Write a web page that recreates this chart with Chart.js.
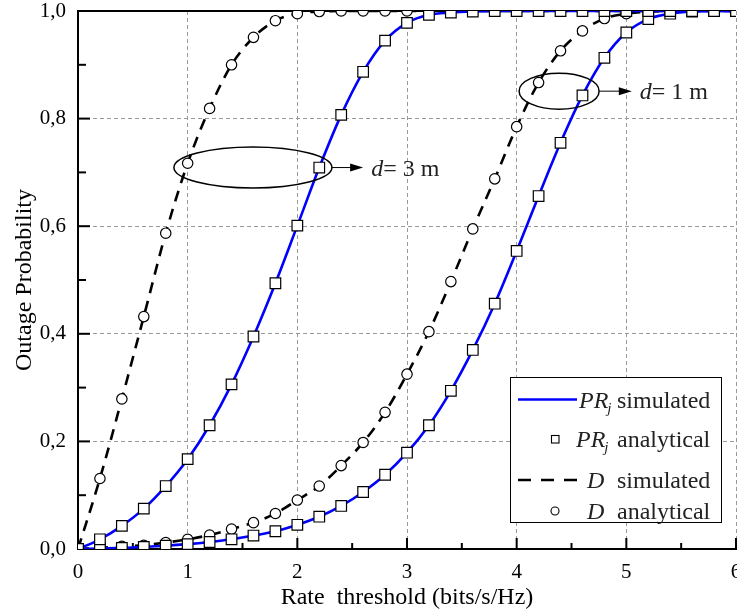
<!DOCTYPE html>
<html>
<head>
<meta charset="utf-8">
<script src="https://cdn.jsdelivr.net/npm/chart.js@4.4.1/dist/chart.umd.min.js"></script>
<style>
  html, body { margin: 0; padding: 0; background: #fff; }
</style>
</head>
<body>
<canvas id="mychart" width="737" height="613"></canvas>
<script>
// rate threshold (bits/s/Hz)
const rates = [0, 0.2, 0.4, 0.6, 0.8, 1.0, 1.2, 1.4, 1.6, 1.8, 2.0, 2.2, 2.4, 2.6, 2.8, 3.0,
               3.2, 3.4, 3.6, 3.8, 4.0, 4.2, 4.4, 4.6, 4.8, 5.0, 5.2, 5.4, 5.6, 5.8, 6.0];

// PR_j, d = 3 m
const prj3 = [0, 0.018, 0.043, 0.075, 0.117, 0.167, 0.230, 0.306, 0.395, 0.494, 0.601, 0.709,
              0.807, 0.887, 0.945, 0.978, 0.993, 0.997, 0.999, 1, 1, 1, 1, 1, 1, 1, 1, 1, 1, 1, 1];
// D, d = 3 m
const d3 = [0, 0.131, 0.279, 0.432, 0.587, 0.717, 0.819, 0.900, 0.951, 0.982, 0.995, 0.999,
            1, 1, 1, 1, 1, 1, 1, 1, 1, 1, 1, 1, 1, 1, 1, 1, 1, 1, 1];
// PR_j, d = 1 m
const prj1 = [0, 0.001, 0.002, 0.004, 0.006, 0.009, 0.013, 0.018, 0.025, 0.033, 0.045, 0.060,
              0.080, 0.106, 0.138, 0.179, 0.230, 0.294, 0.370, 0.456, 0.554, 0.656, 0.755,
              0.843, 0.913, 0.960, 0.985, 0.995, 0.999, 1, 1];
// D, d = 1 m
const d1 = [0, 0.002, 0.005, 0.007, 0.012, 0.018, 0.026, 0.037, 0.049, 0.066, 0.091, 0.117,
            0.155, 0.198, 0.254, 0.325, 0.404, 0.497, 0.595, 0.688, 0.785, 0.867, 0.926,
            0.963, 0.986, 0.995, 0.999, 1, 1, 1, 1];

const xTicks = [0, 1, 2, 3, 4, 5, 6];
const yTicks = [0, 0.2, 0.4, 0.6, 0.8, 1.0];

const FONT = 'Liberation Serif';
const BLUE = '#0000ff';
const DASH = [11, 8];

const pts = (vals) => vals.map((v, i) => ({x: rates[i], y: v}));

const simLine = (label, vals, color, dash) => ({
  label: label,
  data: pts(vals),
  borderColor: color,
  borderWidth: 2.6,
  borderDash: dash,
  pointRadius: 0,
  fill: false,
  cubicInterpolationMode: 'monotone',
  order: 1,
});

const anaPoints = (label, vals, style, r) => ({
  label: label,
  data: pts(vals),
  showLine: false,
  pointStyle: style,
  pointRadius: r,
  pointBackgroundColor: '#fff',
  pointBorderColor: '#000',
  pointBorderWidth: 1.2,
  order: 0,
});

const datasets = [
  simLine('PRj simulated (d=3 m)', prj3, BLUE, []),
  simLine('PRj simulated (d=1 m)', prj1, BLUE, []),
  simLine('D simulated (d=3 m)', d3, '#000', DASH),
  simLine('D simulated (d=1 m)', d1, '#000', DASH),
  anaPoints('PRj analytical (d=3 m)', prj3, 'rect', 7.5),
  anaPoints('PRj analytical (d=1 m)', prj1, 'rect', 7.5),
  anaPoints('D analytical (d=3 m)', d3, 'circle', 5.2),
  anaPoints('D analytical (d=1 m)', d1, 'circle', 5.2),
];

// legend rows: symbol kind, italic name, subscript, rest
const legendRows = [
  {kind: 'line', color: BLUE, dash: [], name: 'PR', sub: 'j', text: 'simulated'},
  {kind: 'rect', name: 'PR', sub: 'j', text: 'analytical'},
  {kind: 'line', color: '#000', dash: [13, 10], name: 'D', sub: '', text: 'simulated'},
  {kind: 'circle', name: 'D', sub: '', text: 'analytical'},
];

// "d = ..." callouts, ellipse centre in data units
const callouts = [
  {cx: 1.595, cy: 0.709, rx: 79, ry: 20.5, arrowEnd: 2.6, dist: '= 3 m'},
  {cx: 4.387, cy: 0.851, rx: 40, ry: 18, arrowEnd: 5.05, dist: '= 1 m'},
];

const decor = {
  id: 'decor',
  beforeDatasetsDraw(chart) {
    const {ctx, chartArea: a, scales: {x, y}} = chart;
    ctx.save();
    ctx.strokeStyle = '#000';
    ctx.lineWidth = 2;
    ctx.beginPath();
    ctx.moveTo(a.left, a.top);
    ctx.lineTo(a.right, a.top);
    ctx.stroke();

    // inward ticks, major + minor
    for (let i = 0; i <= 12; i++) {
      const px = x.getPixelForValue(i * 0.5);
      const len = i % 2 === 0 ? 11 : 6;
      ctx.beginPath();
      ctx.moveTo(px, a.bottom);
      ctx.lineTo(px, a.bottom - len);
      ctx.stroke();
    }
    for (let i = 0; i <= 10; i++) {
      const py = y.getPixelForValue(i * 0.1);
      const len = i % 2 === 0 ? 12 : 8;
      ctx.beginPath();
      ctx.moveTo(a.left, py);
      ctx.lineTo(a.left + len, py);
      ctx.stroke();
    }
    ctx.restore();
  },
  afterDatasetsDraw(chart) {
    const {ctx, chartArea: a, scales: {x, y}} = chart;
    ctx.save();

    // callouts
    callouts.forEach(c => {
      const cx = x.getPixelForValue(c.cx);
      const cy = y.getPixelForValue(c.cy);
      ctx.strokeStyle = '#000';
      ctx.lineWidth = 1.5;
      ctx.beginPath();
      ctx.ellipse(cx, cy, c.rx, c.ry, 0, 0, Math.PI * 2);
      ctx.stroke();
      const x0 = cx + c.rx;
      const x1 = x.getPixelForValue(c.arrowEnd);
      ctx.lineWidth = 1;
      ctx.beginPath();
      ctx.moveTo(x0, cy);
      ctx.lineTo(x1 - 10, cy);
      ctx.stroke();
      ctx.fillStyle = '#000';
      ctx.beginPath();
      ctx.moveTo(x1, cy);
      ctx.lineTo(x1 - 13, cy - 4);
      ctx.lineTo(x1 - 13, cy + 4);
      ctx.closePath();
      ctx.fill();
      ctx.textBaseline = 'alphabetic';
      ctx.fillStyle = '#222';
      ctx.font = 'italic 24px "' + FONT + '"';
      const tx = x1 + 8;
      ctx.fillText('d', tx, cy + 8);
      const w = ctx.measureText('d').width;
      ctx.font = '24px "' + FONT + '"';
      ctx.fillText(c.dist, tx + w, cy + 8);
    });

    // legend box
    const bw = 211, bh = 145;
    const bx = a.right - 15 - bw;
    const by = a.bottom - 27 - bh;
    ctx.fillStyle = '#fff';
    ctx.fillRect(bx, by, bw, bh);
    ctx.strokeStyle = '#000';
    ctx.lineWidth = 1;
    ctx.strokeRect(bx + 0.5, by + 0.5, bw, bh);

    const rowY = [22.5, 62, 103, 134];
    legendRows.forEach((r, i) => {
      const ry = by + rowY[i];
      if (r.kind === 'line') {
        ctx.strokeStyle = r.color;
        ctx.lineWidth = 2.6;
        ctx.setLineDash(r.dash);
        ctx.beginPath();
        ctx.moveTo(bx + 8, ry);
        ctx.lineTo(bx + 67, ry);
        ctx.stroke();
        ctx.setLineDash([]);
      } else if (r.kind === 'rect') {
        ctx.fillStyle = '#fff';
        ctx.strokeStyle = '#000';
        ctx.lineWidth = 1.1;
        ctx.fillRect(bx + 41.5, ry - 3.5, 7.5, 7.5);
        ctx.strokeRect(bx + 41.5, ry - 3.5, 7.5, 7.5);
      } else {
        ctx.fillStyle = '#fff';
        ctx.strokeStyle = '#000';
        ctx.lineWidth = 1.1;
        ctx.beginPath();
        ctx.arc(bx + 45, ry, 4, 0, Math.PI * 2);
        ctx.fill();
        ctx.stroke();
      }
      ctx.fillStyle = '#222';
      ctx.textBaseline = 'alphabetic';
      ctx.font = 'italic 24px "' + FONT + '"';
      const nx = r.sub ? bx + (i === 0 ? 69 : 66) : bx + 77;
      ctx.fillText(r.name, nx, ry + 8);
      if (r.sub) {
        const nw = ctx.measureText(r.name).width;
        ctx.font = 'italic 15px "' + FONT + '"';
        ctx.fillText(r.sub, nx + nw - 1, ry + 13);
      }
      ctx.font = '24px "' + FONT + '"';
      ctx.fillText(r.text, bx + 107, ry + 8);
    });
    ctx.restore();
  }
};

const config = {
  type: 'line',
  data: {datasets: datasets},
  options: {
    responsive: false,
    animation: false,
    devicePixelRatio: 1,
    layout: {autoPadding: false, padding: {top: 11, right: 1, left: 0, bottom: 0}},
    plugins: {
      legend: {display: false},
      tooltip: {enabled: false},
    },
    scales: {
      x: {
        type: 'linear',
        min: 0,
        max: 6,
        afterBuildTicks: (s) => { s.ticks = xTicks.map(v => ({value: v})); },
        ticks: {
          color: '#000',
          font: {family: FONT, size: 21},
          padding: 11,
          maxRotation: 0,
          callback: (v) => String(v),
        },
        grid: {color: '#9a9a9a', lineWidth: 1, drawTicks: false},
        border: {color: '#000', width: 2, dash: [4, 3]},
        title: {
          display: true,
          text: 'Rate  threshold (bits/s/Hz)',
          color: '#000',
          font: {family: FONT, size: 24},
          padding: {top: 0, bottom: 1},
        },
        afterFit: (s) => { s.height = 64; s.paddingLeft = 0; s.paddingRight = 0; },
      },
      y: {
        min: 0,
        max: 1,
        afterBuildTicks: (s) => { s.ticks = yTicks.map(v => ({value: v})); },
        ticks: {
          color: '#000',
          font: {family: FONT, size: 21},
          padding: 12,
          callback: (v) => v.toFixed(1).replace('.', ','),
        },
        grid: {color: '#9a9a9a', lineWidth: 1, drawTicks: false},
        border: {color: '#000', width: 2, dash: [4, 3]},
        title: {
          display: true,
          text: 'Outage Probability',
          color: '#000',
          font: {family: FONT, size: 24},
          padding: {top: 10, bottom: 0},
        },
        afterFit: (s) => { s.width = 78; s.paddingTop = 0; s.paddingBottom = 0; },
      },
    },
  },
  plugins: [decor],
};

const ctx = document.getElementById('mychart').getContext('2d');
new Chart(ctx, config);
</script>
</body>
</html>
